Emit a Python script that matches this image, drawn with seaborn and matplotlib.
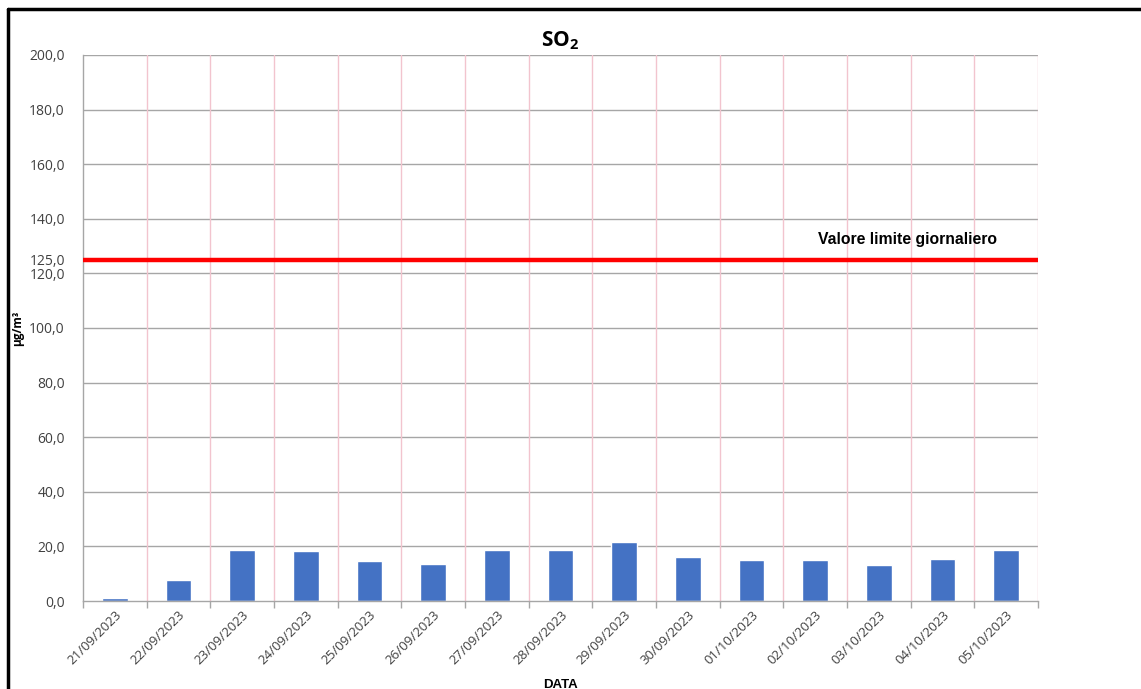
import matplotlib
matplotlib.use("Agg")
import matplotlib.pyplot as plt
from matplotlib.lines import Line2D
from matplotlib.ticker import FixedLocator
import seaborn as sns
import pandas as pd

dates = ["21/09/2023", "22/09/2023", "23/09/2023", "24/09/2023", "25/09/2023",
         "26/09/2023", "27/09/2023", "28/09/2023", "29/09/2023", "30/09/2023",
         "01/10/2023", "02/10/2023", "03/10/2023", "04/10/2023", "05/10/2023"]
so2 = [1.2, 7.7, 18.7, 18.3, 14.7, 13.4, 18.7, 18.7, 21.5, 16.2,
       15.0, 15.0, 13.1, 15.5, 18.7]
limit_value = 125.0
limit_label = "Valore limite giornaliero"
y_ticks = [0, 20, 40, 60, 80, 100, 120, 125, 140, 160, 180, 200]

sns.set_theme(style="white")
plt.rcParams["font.family"] = ["Open Sans", "DejaVu Sans"]
plt.rcParams["mathtext.fontset"] = "custom"
plt.rcParams["mathtext.rm"] = "Open Sans"
plt.rcParams["mathtext.bf"] = "Open Sans:bold"

df = pd.DataFrame({"DATA": dates, "SO2": so2})

fig = plt.figure(figsize=(11.41, 6.89), dpi=100)
ax = fig.add_axes([0.0727, 0.1277, 0.837, 0.7925])

sns.barplot(data=df, x="DATA", y="SO2", color="#4472C4", width=0.4,
            saturation=1, ax=ax, zorder=3)

n = len(dates)
ax.set_xlim(-0.5, n - 0.5)
ax.set_ylim(0, 200)

# horizontal gray grid every 20
for v in range(20, 201, 20):
    ax.axhline(v, color="#A6A6A6", lw=1.0, zorder=1)

# pink category-boundary grid
bounds = [i - 0.5 for i in range(n + 1)]
for b in bounds[1:]:
    ax.axvline(b, color="#F2C4CE", lw=1.0, zorder=1)

ax.axhline(limit_value, color="#FF0000", lw=3.2, zorder=4)
ax.text(11.04, 132.5, limit_label, fontsize=11.3, fontweight="bold",
        family="Liberation Sans", color="#000000", va="center", ha="left")

ax.set_yticks(y_ticks)
ax.set_yticklabels([f"{v:.1f}".replace(".", ",") for v in y_ticks],
                   fontsize=10, color="#404040")
ax.tick_params(axis="y", length=0, pad=13)

ax.set_xticks(range(n))
ax.set_xticklabels(dates, rotation=45, ha="right", rotation_mode="anchor",
                   fontsize=9.5, color="#404040")
ax.tick_params(axis="x", which="major", length=0, pad=5)
ax.xaxis.set_minor_locator(FixedLocator(bounds))
ax.tick_params(axis="x", which="minor", length=5, color="#A6A6A6",
               direction="out", width=1, bottom=True)

for s in ["top", "right"]:
    ax.spines[s].set_visible(False)
ax.spines["left"].set_color("#A6A6A6")
ax.spines["bottom"].set_color("#A6A6A6")
ax.spines["left"].set_linewidth(1.0)
ax.spines["bottom"].set_linewidth(1.0)
ax.spines["bottom"].set_zorder(5)

ax.set_xlabel("DATA", fontsize=9.5, fontweight="bold", family="Liberation Sans",
              color="#000000")
ax.set_ylabel("µg/m³", fontsize=8.5, fontweight="bold", color="#000000")
ax.yaxis.set_label_coords(-0.062, 0.5)
ax.xaxis.set_label_coords(0.5, -0.143)

ax.set_title(r"$\mathbf{SO_2}$", fontsize=15, color="#000000", pad=6)

# outer frame lines
fig.add_artist(Line2D([0.007, 1.0], [1 - 9 / 689, 1 - 9 / 689],
                      transform=fig.transFigure, color="black", lw=2.5))
fig.add_artist(Line2D([8 / 1141, 8 / 1141], [0.0, 1 - 9 / 689],
                      transform=fig.transFigure, color="black", lw=2.5))

fig.savefig("out.png", dpi=100)
